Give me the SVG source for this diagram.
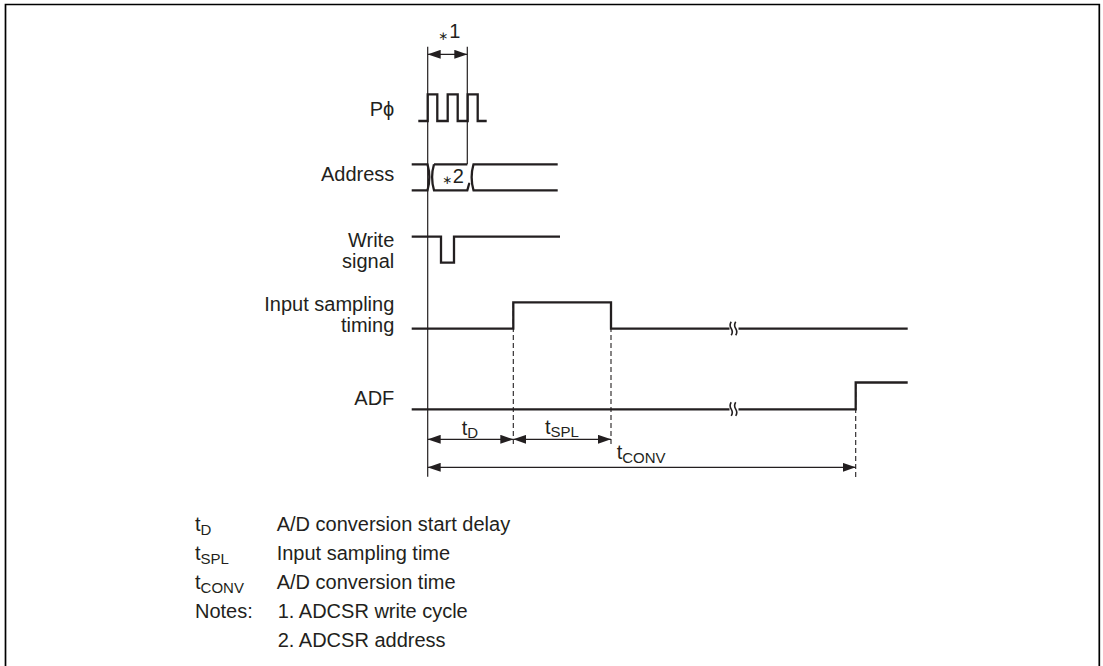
<svg xmlns="http://www.w3.org/2000/svg" width="1103" height="666" viewBox="0 0 1103 666">
<style>
text{font-family:"Liberation Sans",Arial,sans-serif;font-size:20px;fill:#231f20}
.lbl{text-anchor:end}
.sub{font-size:15px}
.ast{font-family:"DejaVu Sans",sans-serif;font-size:12px;text-anchor:middle}
.sig{fill:none;stroke:#231f20;stroke-width:2.3;stroke-linejoin:miter}
.ref{fill:none;stroke:#231f20;stroke-width:1.2}
.dash{fill:none;stroke:#231f20;stroke-width:1.1;stroke-dasharray:5 3}
.dim{fill:none;stroke:#231f20;stroke-width:1.2}
.brk{fill:none;stroke:#231f20;stroke-width:1.6}
</style>
<defs>
<marker id="ah" viewBox="0 0 13 9" refX="13" refY="4.5" markerWidth="13" markerHeight="9" markerUnits="userSpaceOnUse" orient="auto-start-reverse"><path d="M0,0 L13,4.5 L0,9 z" fill="#231f20"/></marker>
</defs>
<rect width="1103" height="666" fill="#fff"/>
<path d="M5.5,670 V4.5 H1099.3 V670" fill="none" stroke="#000" stroke-width="1.7"/>

<g id="clock">
<text class="lbl" x="394.3" y="115.7">P&#x3D5;</text>
<path class="sig" d="M418.3,121 H427.7 V94.3 H437.3 V121 H447.7 V94.3 H457.7 V121 H467.7 V94.3 H477.7 V121 H486.7"/>
</g>

<g id="address">
<text class="lbl" x="394.3" y="181">Address</text>
<path class="sig" d="M411.7,164.3 H427.5 Q431.2,177.3 427.5,190.3 H411.7"/>
<path class="sig" d="M434,164.3 Q430.2,177.3 434,190.3 H467.3 Q471,177.3 467.3,190.3 M434,164.3 H467.3"/>
<path class="sig" d="M557.7,164.3 H473.5 Q469.8,177.3 473.5,190.3 H557.7"/>
<text class="ast" x="447" y="184">&#x2217;</text>
<text x="452.7" y="183" font-size="15">2</text>
</g>

<g id="write">
<text class="lbl" x="394.3" y="246.7">Write</text>
<text class="lbl" x="394.3" y="268.3">signal</text>
<path class="sig" d="M411.7,236.7 H441 V262.7 H454 V236.7 H560"/>
</g>

<g id="sampling">
<text class="lbl" x="394.3" y="310.7">Input sampling</text>
<text class="lbl" x="394.3" y="332.3">timing</text>
<path class="sig" d="M411.7,328.7 H513.3 V302.3 H611 V328.7 H729.5 M738.5,328.7 H907.7"/>
<path class="brk" d="M731.2,321.7 q-2.2,3.3 0,6.8 q2.2,3.4 0,6.8 M735.7,321.7 q-2.2,3.3 0,6.8 q2.2,3.4 0,6.8"/>
</g>

<g id="adf">
<text class="lbl" x="394.3" y="405">ADF</text>
<path class="sig" d="M411.7,409.3 H729.5 M738.5,409.3 H855.7 V382.5 H907.7"/>
<path class="brk" d="M731.2,402.3 q-2.2,3.3 0,6.8 q2.2,3.4 0,6.8 M735.7,402.3 q-2.2,3.3 0,6.8 q2.2,3.4 0,6.8"/>
</g>

<g id="connectors">
<line class="ref" x1="427.7" y1="46.7" x2="427.7" y2="476.7"/>
<line class="ref" x1="467.3" y1="46.7" x2="467.3" y2="164.3" stroke="#555"/>
<line class="dim" x1="427.7" y1="54.3" x2="467.3" y2="54.3" stroke-width="1.8" marker-start="url(#ah)" marker-end="url(#ah)"/>
<line class="dash" x1="513.3" y1="303" x2="513.3" y2="445"/>
<line class="dash" x1="611" y1="303" x2="611" y2="447"/>
<line class="dash" x1="855.7" y1="384" x2="855.7" y2="478"/>
<line class="dim" x1="427.7" y1="439.3" x2="513.3" y2="439.3" marker-start="url(#ah)" marker-end="url(#ah)"/>
<line class="dim" x1="513.3" y1="439.3" x2="611" y2="439.3" marker-start="url(#ah)" marker-end="url(#ah)"/>
<line class="dim" x1="427.7" y1="467.3" x2="855.7" y2="467.3" marker-start="url(#ah)" marker-end="url(#ah)"/>
</g>

<g id="dim-labels">
<text class="ast" x="443" y="40">&#x2217;</text>
<text x="449.3" y="38.3" font-size="15">1</text>
<text x="461.7" y="434.5">t<tspan class="sub" dy="3">D</tspan></text>
<text x="545" y="433.5">t<tspan class="sub" dy="3">SPL</tspan></text>
<text x="616.7" y="459">t<tspan class="sub" dy="3.5">CONV</tspan></text>
</g>

<g id="legend">
<text x="195" y="531">t<tspan class="sub" dy="4">D</tspan></text>
<text x="276.7" y="531">A/D conversion start delay</text>
<text x="195" y="560">t<tspan class="sub" dy="4">SPL</tspan></text>
<text x="276.7" y="560">Input sampling time</text>
<text x="195" y="589">t<tspan class="sub" dy="4">CONV</tspan></text>
<text x="276.7" y="589">A/D conversion time</text>
<text x="195" y="618">Notes:</text>
<text x="277.7" y="618">1. ADCSR write cycle</text>
<text x="277.7" y="647">2. ADCSR address</text>
</g>
</svg>
